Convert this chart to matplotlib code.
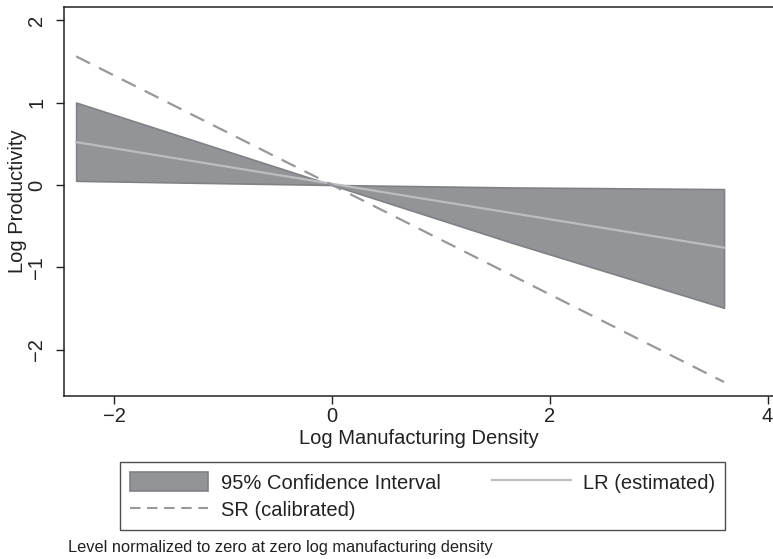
import matplotlib.pyplot as plt
from matplotlib.patches import Patch
from matplotlib.lines import Line2D

plt.rcParams["font.family"] = ["Liberation Sans", "DejaVu Sans"]

# Values
ci_x = [-2.35, 0.0, 1.65, 3.6]
ci_upper = [1.0, 0.0, -0.03, -0.05]
ci_lower = [0.05, 0.0, -0.70, -1.49]

lr_x = [-2.35, 3.6]
lr_y = [0.52, -0.76]

sr_x = [-2.35, 3.6]
sr_y = [1.56, -2.39]

x_ticks = [-2, 0, 2, 4]
y_ticks = [-2, -1, 0, 1, 2]

FILL = "#939497"
EDGE = "#808184"
LR_COL = "#bcbdc0"
SR_COL = "#97989b"
INK = "#222222"
FS = 14.5

fig = plt.figure(figsize=(7.73, 5.59), dpi=100)
ax = fig.add_axes([0.083, 0.2916, 0.917, 0.696])

ax.fill_between(ci_x, ci_lower, ci_upper, facecolor=FILL, edgecolor=EDGE, lw=1.2)
ax.plot(lr_x, lr_y, color=LR_COL, lw=1.6)
ax.plot(sr_x, sr_y, color=SR_COL, lw=1.6, dashes=(7, 4.5))

ax.set_xlim(-2.46, 4.05)
ax.set_ylim(-2.56, 2.16)
ax.set_xticks(x_ticks)
ax.set_yticks(y_ticks)
ax.tick_params(axis="both", direction="out", length=6, width=1, labelsize=FS, colors=INK)
ax.tick_params(axis="x", pad=2)
ax.tick_params(axis="y", labelrotation=90, pad=7)
for lab in ax.get_yticklabels():
    lab.set_va("center")
ax.spines["right"].set_visible(False)
for s in ["left", "bottom", "top"]:
    ax.spines[s].set_linewidth(1.1)
    ax.spines[s].set_color(INK)

ax.set_xlabel("Log Manufacturing Density", fontsize=FS, labelpad=2, color=INK)
ax.set_ylabel("Log Productivity", fontsize=FS, labelpad=0, color=INK)

handles = [
    Patch(facecolor=FILL, edgecolor=EDGE, lw=1.2, label="95% Confidence Interval"),
    Line2D([], [], color=SR_COL, lw=1.5, dashes=(5, 3.2), label="SR (calibrated)"),
    Line2D([], [], color=LR_COL, lw=1.6, label="LR (estimated)"),
]
leg = fig.legend(handles=handles, ncol=2, loc="lower left",
                 bbox_to_anchor=(0.155, 0.052, 0.783, 0.12), mode="expand",
                 fontsize=FS, frameon=True, fancybox=False, edgecolor=INK,
                 handlelength=3.9, handleheight=1.05, handletextpad=0.6,
                 borderaxespad=0, borderpad=0.5, labelspacing=0.35)
leg.get_frame().set_linewidth(1.0)
for t in leg.get_texts():
    t.set_color(INK)

fig.text(0.088, 0.013, "Level normalized to zero at zero log manufacturing density",
         fontsize=11.8, color=INK)

fig.savefig("out.png", dpi=100)
